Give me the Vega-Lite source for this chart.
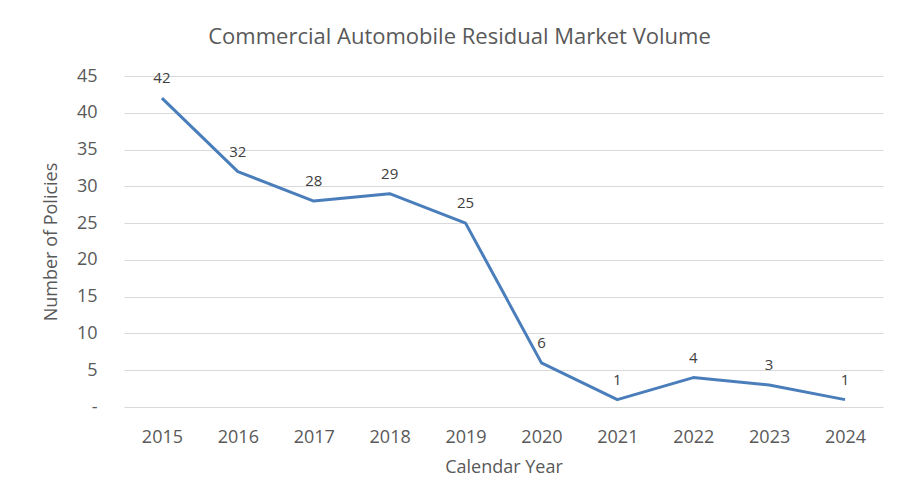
{
  "$schema": "https://vega.github.io/schema/vega-lite/v6.json",
  "width": 759,
  "height": 331,
  "autosize": {"type": "none"},
  "padding": {"left": 124, "top": 76, "right": 24, "bottom": 92},
  "background": "white",
  "config": {
    "view": {"stroke": null},
    "font": "Open Sans"
  },
  "title": {
    "text": "Commercial Automobile Residual Market Volume",
    "fontSize": 22,
    "fontWeight": "normal",
    "color": "#595959",
    "font": "Open Sans",
    "anchor": "middle",
    "dx": -44,
    "offset": 18
  },
  "data": {
    "values": [
      {"year": "2015", "policies": 42},
      {"year": "2016", "policies": 32},
      {"year": "2017", "policies": 28},
      {"year": "2018", "policies": 29},
      {"year": "2019", "policies": 25},
      {"year": "2020", "policies": 6},
      {"year": "2021", "policies": 1},
      {"year": "2022", "policies": 4},
      {"year": "2023", "policies": 3},
      {"year": "2024", "policies": 1}
    ]
  },
  "encoding": {
    "x": {
      "field": "year",
      "type": "ordinal",
      "scale": {"type": "point", "padding": 0.5},
      "axis": {
        "title": "Calendar Year",
        "labelAngle": 0,
        "labelFontSize": 18,
        "labelColor": "#595959",
        "labelPadding": 21,
        "titleFontSize": 18,
        "titleFontWeight": "normal",
        "titleColor": "#595959",
        "titlePadding": 12,
        "ticks": false,
        "domain": false,
        "grid": false
      }
    },
    "y": {
      "field": "policies",
      "type": "quantitative",
      "scale": {"domain": [0, 45], "nice": false},
      "axis": {
        "title": "Number of Policies",
        "values": [0, 5, 10, 15, 20, 25, 30, 35, 40, 45],
        "labelExpr": "datum.value == 0 ? '-\u00a0\u00a0' : datum.label",
        "labelFontSize": 18,
        "labelColor": "#595959",
        "labelPadding": 27,
        "titleFontSize": 18,
        "titleFontWeight": "normal",
        "titleColor": "#595959",
        "titlePadding": 16,
        "ticks": false,
        "domain": false,
        "grid": true,
        "gridColor": "#D9D9D9",
        "gridWidth": 1
      }
    }
  },
  "layer": [
    {
      "mark": {"type": "line", "color": "#4A7EBB", "strokeWidth": 3, "strokeJoin": "round"}
    },
    {
      "mark": {"type": "text", "fontSize": 15, "color": "#404040", "baseline": "middle", "dy": -20},
      "encoding": {"text": {"field": "policies", "type": "quantitative"}}
    }
  ]
}
